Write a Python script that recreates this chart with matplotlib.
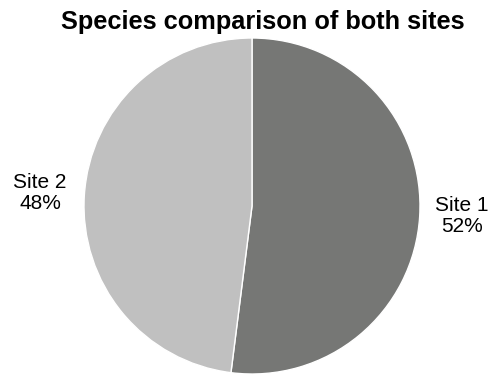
import matplotlib
matplotlib.use("Agg")
import matplotlib.pyplot as plt

sites = ["Site 1", "Site 2"]
shares = [52, 48]
colors = ["#767775", "#c0c0c0"]

plt.rcParams["font.family"] = ["Liberation Sans", "DejaVu Sans"]

fig = plt.figure(figsize=(4.93, 3.75), dpi=100)
# pie centered at (252, 206) px with radius ~168 px
cx, cy, r = 252 / 493, 1 - 206 / 375, 168
w, h = 2 * r / 493, 2 * r / 375
ax = fig.add_axes([cx - w / 2, cy - h / 2, w, h])
ax.pie(shares, colors=colors, startangle=90, counterclock=False,
       wedgeprops=dict(edgecolor="white", linewidth=1))
ax.set_xlim(-1, 1)
ax.set_ylim(-1, 1)
ax.set_aspect("equal")

fig.text(263 / 493, 1 - 22 / 375, "Species comparison of both sites",
         ha="center", va="center", fontsize=18.3, fontweight="bold")

for name, val, (x, y) in zip(sites, shares, [(462, 216), (40, 193)]):
    fig.text(x / 493, 1 - y / 375, f"{name}\n{val}%", ha="center",
             va="center", fontsize=15, linespacing=1.08)

fig.savefig("out.png", dpi=100)
